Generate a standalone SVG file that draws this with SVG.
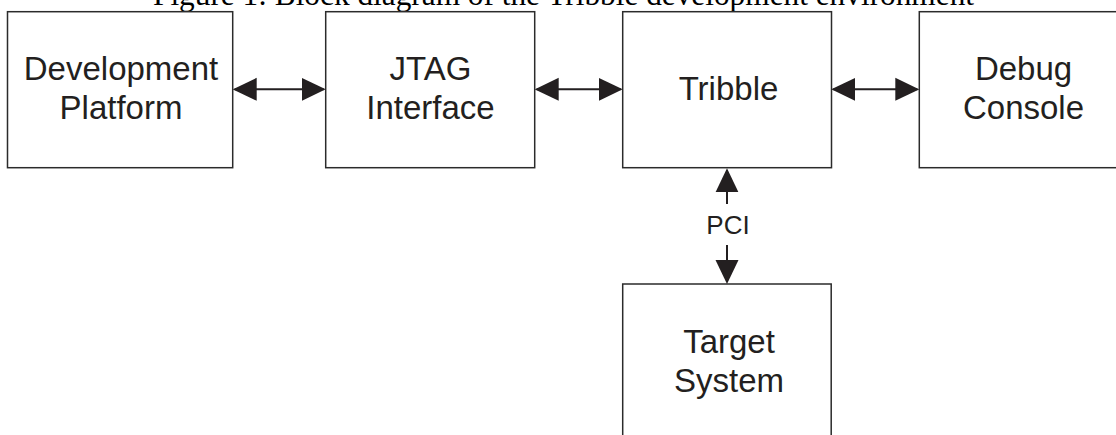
<svg xmlns="http://www.w3.org/2000/svg" width="1116" height="435" viewBox="0 0 1116 435">
<style>
.box{fill:#fff;stroke:#2b2b2b;stroke-width:1.5}
.lbl{font-family:"Liberation Sans",Arial,sans-serif;font-size:33px;fill:#231f20;text-anchor:middle}
.pci{font-family:"Liberation Sans",Arial,sans-serif;font-size:26px;fill:#231f20;text-anchor:middle}
.title{font-family:"Liberation Serif","Times New Roman",serif;font-size:31px;fill:#000;text-anchor:middle}
.conn{stroke:#231f20;stroke-width:2;fill:none}
</style>
<defs>
<marker id="ah" viewBox="0 0 24 24" refX="22" refY="12" markerWidth="24" markerHeight="24" markerUnits="userSpaceOnUse" orient="auto-start-reverse">
<path d="M0,0.5 L24,12 L0,23.5 Z" fill="#231f20"/>
</marker>
</defs>
<text class="title" x="563.5" y="4.5" textLength="821" lengthAdjust="spacingAndGlyphs">Figure 1: Block diagram of the Tribble development environment</text>
<g id="dev">
<rect class="box" x="7.5" y="11.7" width="225.2" height="156"/>
<text class="lbl" x="121" y="80">Development</text>
<text class="lbl" x="121" y="119.3">Platform</text>
</g>
<g id="jtag">
<rect class="box" x="325.7" y="11.7" width="209" height="156"/>
<text class="lbl" x="430.5" y="80">JTAG</text>
<text class="lbl" x="430.5" y="119.3">Interface</text>
</g>
<g id="tribble">
<rect class="box" x="622.7" y="11.7" width="208.8" height="156"/>
<text class="lbl" x="728.5" y="100">Tribble</text>
</g>
<g id="debug">
<rect class="box" x="919.3" y="11.7" width="209" height="156"/>
<text class="lbl" x="1023.5" y="80">Debug</text>
<text class="lbl" x="1023.5" y="119.3">Console</text>
</g>
<g id="target">
<rect class="box" x="622.7" y="284" width="208.5" height="160"/>
<text class="lbl" x="729" y="352.7">Target</text>
<text class="lbl" x="729" y="391.7">System</text>
</g>
<g id="connectors">
<path class="conn" d="M234.7,89.3 H323.7" marker-start="url(#ah)" marker-end="url(#ah)"/>
<path class="conn" d="M536.7,89.3 H620.7" marker-start="url(#ah)" marker-end="url(#ah)"/>
<path class="conn" d="M833.3,89.3 H917.3" marker-start="url(#ah)" marker-end="url(#ah)"/>
<path class="conn" d="M727,204 V170.3" marker-end="url(#ah)"/>
<path class="conn" d="M727,245 V282" marker-end="url(#ah)"/>
<text class="pci" x="728" y="234">PCI</text>
</g>
</svg>
